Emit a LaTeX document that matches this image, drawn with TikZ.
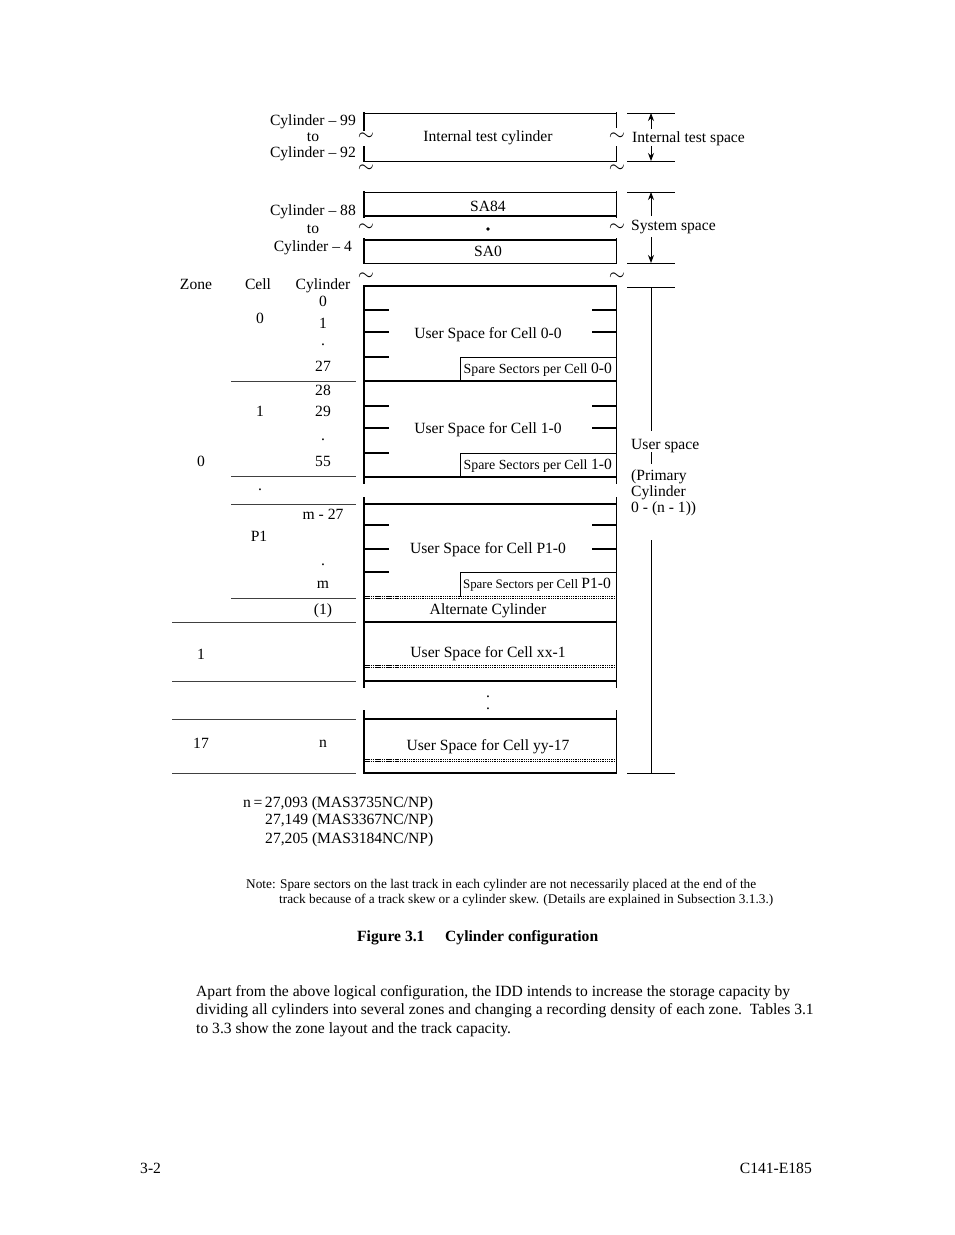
\documentclass[tikz,border=0pt]{standalone}
\usepackage{fontspec}
\setmainfont{Liberation Serif}
\usetikzlibrary{arrows.meta}
\begin{document}
\begin{tikzpicture}[x=1pt,y=-1pt,
  txt/.style={inner sep=0pt, font=\fontsize{15.6}{18}\selectfont, anchor=base},
  ltxt/.style={txt, anchor=base west},
  rtxt/.style={txt, anchor=base east},
  sparetxt/.style={inner sep=0pt, anchor=base east, font=\fontsize{13.9}{16}\selectfont},
  notetxt/.style={inner sep=0pt, anchor=base west, font=\fontsize{13.3}{15}\selectfont},
  boxline/.style={line width=1.8pt},
  midline/.style={line width=1.3pt},
  thinline/.style={line width=0.9pt},
  tblline/.style={line width=0.9pt, black!75},
  tild/.style={inner sep=0pt, font=\fontsize{21}{21}\selectfont},
  dimarrow/.style={line width=0.9pt, -{Stealth[length=8pt,width=6pt]}},
  dotline/.style={line width=0.8pt, dash pattern=on 0.9pt off 0.9pt},
  dotdense/.style={line width=0.8pt, dash pattern=on 1.6pt off 0.6pt}
]
\useasboundingbox (0,0) rectangle (954,1235);
\fill[white] (0,0) rectangle (954,1235);

% ---------- Internal test cylinder ----------
\draw[thinline] (364,113) -- (616,113);
\draw[thinline] (364,161) -- (616,161);
\draw[boxline] (364,112) -- (364,131);
\draw[boxline] (364,146) -- (364,162);
\draw[thinline] (616,112) -- (616,128);
\draw[thinline] (616,146) -- (616,162);
\node[tild] (t1) at (366,137) {$\sim$};
\node[tild] (t2) at (617,137) {$\sim$};
\node[tild] (t3) at (366,169) {$\sim$};
\node[tild] (t4) at (617,169) {$\sim$};
\node[rtxt] (c99) at (356,125) {Cylinder – 99};
\node[txt] (to1) at (313,141) {to};
\node[rtxt] (c92) at (356,157) {Cylinder – 92};
\node[txt] (itc) at (488,141) {Internal test cylinder};

% right annotation: internal test space
\draw[thinline] (627,113) -- (675,113);
\draw[thinline] (627,161) -- (675,161);
\coordinate (its1) at (651,129);
\coordinate (its2) at (651,113);
\coordinate (its3) at (651,146);
\coordinate (its4) at (651,161);
\draw[dimarrow] (its1) -- (its2);
\draw[dimarrow] (its3) -- (its4);
\node[ltxt] (itsp) at (632,142) {Internal test space};

% ---------- System space ----------
\draw[thinline] (364,192) -- (616,192);
\draw[midline] (364,216) -- (616,216);
\draw[midline] (364,240) -- (616,240);
\draw[thinline] (364,263) -- (616,263);
\draw[boxline] (364,191) -- (364,218);
\draw[boxline] (364,238) -- (364,264);
\draw[thinline] (616,191) -- (616,218);
\draw[thinline] (616,238) -- (616,264);
\node[tild] (t5) at (366,228) {$\sim$};
\node[tild] (t6) at (617,228) {$\sim$};
\node[tild] (t7) at (366,277) {$\sim$};
\node[tild] (t8) at (617,277) {$\sim$};
\node[rtxt] (c88) at (356,215) {Cylinder – 88};
\node[txt] (to2) at (313,233) {to};
\node[rtxt] (c4) at (352,251) {Cylinder – 4};
\node[txt] (sa84) at (488,211) {SA84};
\fill (488,229) circle (1.8);
\node[txt] (sa0) at (488,256) {SA0};

\draw[thinline] (627,192) -- (675,192);
\draw[thinline] (627,263) -- (675,263);
\coordinate (ss1) at (651,216);
\coordinate (ss2) at (651,192);
\coordinate (ss3) at (651,237);
\coordinate (ss4) at (651,263);
\draw[dimarrow] (ss1) -- (ss2);
\draw[dimarrow] (ss3) -- (ss4);
\node[ltxt] (ssp) at (631,230) {System space};

% ---------- User area ----------
\draw[boxline] (364,286) -- (616,286);
\draw[boxline] (364,285) -- (364,484);
\draw[boxline] (364,497) -- (364,688);
\draw[boxline] (364,710) -- (364,774);
\draw[thinline] (616,285) -- (616,484);
\draw[thinline] (616,497) -- (616,688);
\draw[thinline] (616,710) -- (616,774);

% cell 0-0
\foreach \y in {310,332,357} \draw[midline] (364,\y) -- (389,\y);
\foreach \y in {310,332} \draw[midline] (592,\y) -- (616,\y);
\draw[thinline] (460,357) -- (616,357);
\draw[thinline] (460,357) -- (460,381);
\draw[midline] (364,381) -- (616,381);
\node[txt] (us00) at (488,338) {User Space for Cell 0-0};
\node[sparetxt] (sp00) at (612,373) {Spare Sectors per Cell \fontsize{15.6}{18}\selectfont 0-0};

% cell 1-0
\foreach \y in {406,428,453} \draw[midline] (364,\y) -- (389,\y);
\foreach \y in {406,428} \draw[midline] (592,\y) -- (616,\y);
\draw[thinline] (460,453) -- (616,453);
\draw[thinline] (460,453) -- (460,477);
\draw[midline] (364,477) -- (616,477);
\node[txt] (us10) at (488,433) {User Space for Cell 1-0};
\node[sparetxt] (sp10) at (612,469) {Spare Sectors per Cell \fontsize{15.6}{18}\selectfont 1-0};

% cell P1-0
\draw[midline] (364,504) -- (616,504);
\foreach \y in {525,549,572} \draw[midline] (364,\y) -- (389,\y);
\foreach \y in {525,549} \draw[midline] (592,\y) -- (616,\y);
\draw[thinline] (460,572) -- (616,572);
\draw[thinline] (460,572) -- (460,597);
\node[txt] (usp1) at (488,553) {User Space for Cell P1-0};
\node[sparetxt, font=\fontsize{12.9}{15}\selectfont] (spp1) at (611,588) {Spare Sectors per Cell \fontsize{15.6}{18}\selectfont P1-0};
\draw[dotline] (364,596.2) -- (616,596.2);
\draw[dotline] (364,598.2) -- (616,598.2);
\draw[dotdense] (364,596.2) -- (398,596.2);
\draw[dotdense] (364,598.2) -- (398,598.2);
\node[txt] (alt) at (488,614) {Alternate Cylinder};
\draw[midline] (364,622) -- (616,622);

% cell xx-1
\node[txt] (usxx) at (488,657) {User Space for Cell xx-1};
\draw[dotline] (364,665.2) -- (616,665.2);
\draw[dotline] (364,667.2) -- (616,667.2);
\draw[dotdense] (364,665.2) -- (398,665.2);
\draw[dotdense] (364,667.2) -- (398,667.2);
\draw[midline] (364,681) -- (616,681);
\node[inner sep=0pt, anchor=base, align=center, font=\fontsize{15.6}{12}\selectfont] (dd) at (488,709) {.\\.};

% cell yy-17
\draw[midline] (364,719) -- (616,719);
\node[txt] (usyy) at (488,750) {User Space for Cell yy-17};
\draw[dotline] (364,759.2) -- (616,759.2);
\draw[dotline] (364,761.2) -- (616,761.2);
\draw[dotdense] (364,759.2) -- (398,759.2);
\draw[dotdense] (364,761.2) -- (398,761.2);
\draw[midline] (364,773) -- (616,773);

% right annotation: user space
\draw[thinline] (627,287) -- (675,287);
\draw[thinline] (627,773) -- (675,773);
\coordinate (u1) at (651,287);
\coordinate (u2) at (651,431);
\coordinate (u3) at (651,452);
\coordinate (u4) at (651,464);
\coordinate (u5) at (651,540);
\coordinate (u6) at (651,773);
\draw[thinline] (u1) -- (u2);
\draw[thinline] (u3) -- (u4);
\draw[thinline] (u5) -- (u6);
\node[ltxt] (usp) at (631,449) {User space};
\node[ltxt] (pr1) at (631,480) {(Primary};
\node[ltxt] (pr2) at (631,496) {Cylinder};
\node[ltxt] (pr3) at (631,512) {0 - (n - 1))};

% ---------- Left table ----------
\node[txt] (hz) at (196,289) {Zone};
\node[txt] (hc) at (258,289) {Cell};
\node[txt] (hy) at (323,289) {Cylinder};
\node[txt] (y0) at (323,306) {0};
\node[txt] (c0) at (260,323) {0};
\node[txt] (y1) at (323,328) {1};
\node[txt] (yd1) at (323,345) {.};
\node[txt] (y27) at (323,371) {27};
\draw[tblline] (231,381) -- (356,381);
\node[txt] (y28) at (323,395) {28};
\node[txt] (c1) at (260,416) {1};
\node[txt] (y29) at (323,416) {29};
\node[txt] (yd2) at (323,440) {.};
\node[txt] (y55) at (323,466) {55};
\node[txt] (z0) at (201,466) {0};
\draw[tblline] (231,476) -- (356,476);
\node[txt] (cd) at (260,490) {.};
\draw[tblline] (231,504) -- (356,504);
\node[txt] (ym27) at (323,519) {m - 27};
\node[txt] (cp1) at (259,541) {P1};
\node[txt] (yd3) at (323,565) {.};
\node[txt] (ym) at (323,588) {m};
\draw[tblline] (231,598) -- (356,598);
\node[txt] (y1p) at (323,614) {(1)};
\draw[tblline] (172,622) -- (356,622);
\node[txt] (z1) at (201,659) {1};
\draw[tblline] (172,681) -- (356,681);
\draw[tblline] (172,719) -- (356,719);
\node[txt] (z17) at (201,748) {17};
\node[txt] (yn) at (323,747) {n};
\draw[tblline] (172,773) -- (356,773);

% ---------- Text below ----------
\node[ltxt] (n1) at (243,807) {n\,=\,27,093 (MAS3735NC/NP)};
\node[ltxt] (n2) at (265,824) {27,149 (MAS3367NC/NP)};
\node[ltxt] (n3) at (265,843) {27,205 (MAS3184NC/NP)};
\node[notetxt] (note1) at (246,888) {Note: Spare sectors on the last track in each cylinder are not necessarily placed at the end of the};
\node[notetxt] (note2) at (279,903) {track because of a track skew or a cylinder skew. (Details are explained in Subsection 3.1.3.)};
\node[ltxt, font=\fontsize{15.6}{18}\selectfont\bfseries] (fig) at (357,941) {Figure 3.1};
\node[ltxt, font=\fontsize{15.6}{18}\selectfont\bfseries] (figt) at (445,941) {Cylinder configuration};
\node[ltxt] (p1) at (196,996) {Apart from the above logical configuration, the IDD intends to increase the storage capacity by};
\node[ltxt] (p2) at (196,1014) {dividing all cylinders into several zones and changing a recording density of each zone.\ \ Tables 3.1};
\node[ltxt] (p3) at (196,1033) {to 3.3 show the zone layout and the track capacity.};
\node[ltxt] (foot1) at (140,1173) {3-2};
\node[rtxt] (foot2) at (812,1173) {C141-E185};
\end{tikzpicture}
\end{document}
